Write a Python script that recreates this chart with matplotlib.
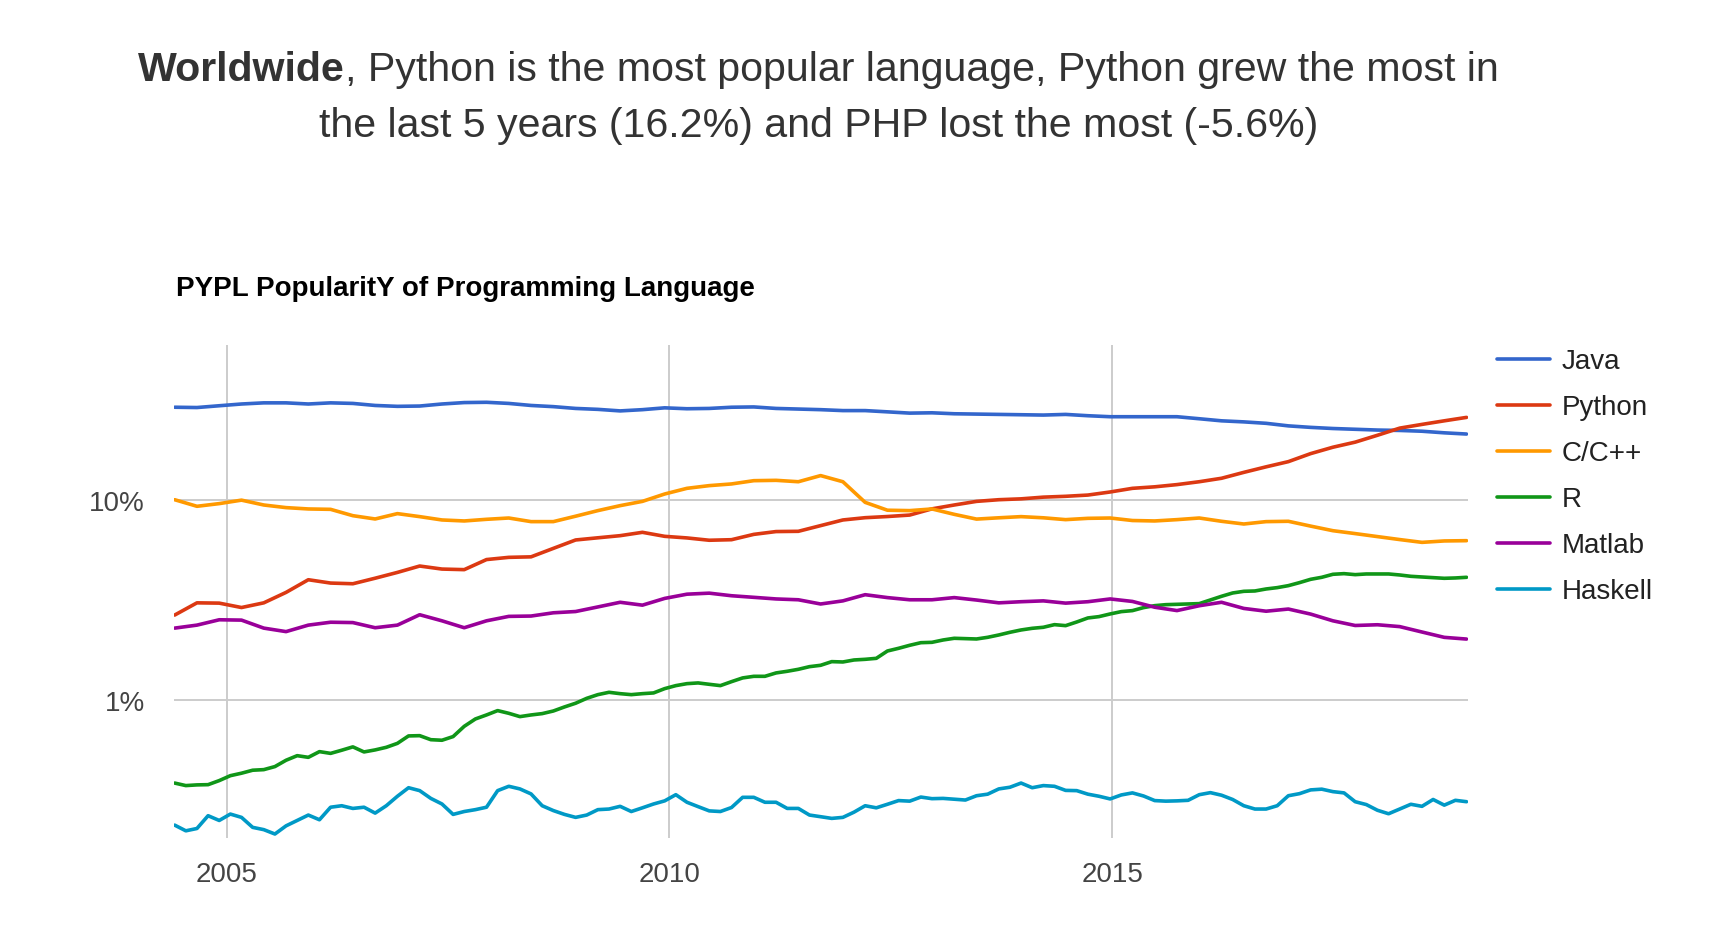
import matplotlib
matplotlib.use("Agg")
import matplotlib.pyplot as plt
import matplotlib.ticker as mticker
import pandas as pd

# PYPL share of searches (%) at evenly spaced points
# from Jun 2004 to Jan 2019 (quarterly for the smooth series, about every
# 1.5 months for the jumpy R and Haskell lines)
java = [29.0, 28.9, 29.5, 30.1, 30.5, 30.5, 30.1, 30.5, 30.3, 29.6, 29.3, 29.4,
        30.1, 30.6, 30.7, 30.3, 29.6, 29.2, 28.6, 28.3, 27.8, 28.2, 28.8,
        28.5, 28.6, 29.0, 29.1, 28.6, 28.4, 28.2, 27.9, 27.9, 27.5, 27.1,
        27.2, 26.9, 26.8, 26.7, 26.6, 26.5, 26.7, 26.3, 26.0, 26.0, 26.0, 26.0,
        25.4, 24.8, 24.5, 24.1, 23.4, 23.0, 22.7, 22.5, 22.3, 22.2, 22.0, 21.6, 21.3]
python = [2.65, 3.05, 3.04, 2.89, 3.05, 3.44, 3.98, 3.83, 3.80, 4.05, 4.33, 4.66,
          4.50, 4.47, 5.02, 5.15, 5.18, 5.71, 6.29, 6.45, 6.61, 6.87, 6.56,
          6.44, 6.27, 6.31, 6.71, 6.93, 6.95, 7.42, 7.92, 8.13, 8.24, 8.38,
          9.0, 9.41, 9.81, 10.0, 10.1, 10.3, 10.4, 10.55, 10.93, 11.4, 11.6, 11.9,
          12.3, 12.8, 13.7, 14.6, 15.5, 17.0, 18.3, 19.4, 21.0, 22.8, 23.8, 24.8, 25.8]
cpp = [10.0, 9.27, 9.56, 9.95, 9.41, 9.13, 8.99, 8.95, 8.32, 8.01, 8.52, 8.23,
       7.92, 7.83, 7.98, 8.10, 7.77, 7.77, 8.27, 8.82, 9.34, 9.81, 10.68,
       11.4, 11.76, 11.99, 12.45, 12.5, 12.3, 13.2, 12.3, 9.70, 8.86, 8.82,
       8.99, 8.45, 8.0, 8.12, 8.23, 8.12, 7.95, 8.07, 8.10, 7.87, 7.83, 7.95,
       8.10, 7.80, 7.56, 7.77, 7.80, 7.38, 7.0, 6.77, 6.54, 6.32, 6.12, 6.22, 6.24]
matlab = [2.28, 2.36, 2.51, 2.50, 2.28, 2.19, 2.36, 2.44, 2.43, 2.29, 2.36, 2.66,
          2.48, 2.29, 2.48, 2.61, 2.62, 2.72, 2.76, 2.91, 3.07, 2.97, 3.21,
          3.37, 3.41, 3.31, 3.25, 3.19, 3.16, 3.01, 3.12, 3.35, 3.24, 3.16,
          3.16, 3.24, 3.15, 3.05, 3.09, 3.12, 3.04, 3.09, 3.19, 3.10, 2.90, 2.79,
          2.95, 3.07, 2.86, 2.77, 2.84, 2.68, 2.48, 2.35, 2.37, 2.32, 2.18, 2.05, 2.01]
r_lang = [0.383, 0.372, 0.375, 0.376, 0.394, 0.417, 0.429, 0.444, 0.447, 0.463,
          0.498, 0.525, 0.515, 0.550, 0.539, 0.559, 0.581, 0.548, 0.561, 0.578,
          0.605, 0.659, 0.661, 0.631, 0.627, 0.654, 0.736, 0.801, 0.839, 0.882,
          0.855, 0.823, 0.839, 0.852, 0.878, 0.920, 0.960, 1.016, 1.060, 1.089,
          1.072, 1.060, 1.072, 1.081, 1.136, 1.176, 1.203, 1.213, 1.194, 1.176,
          1.231, 1.285, 1.309, 1.309, 1.361, 1.387, 1.419, 1.463, 1.486, 1.550,
          1.544, 1.580, 1.592, 1.610, 1.752, 1.807, 1.871, 1.928, 1.936, 1.989,
          2.028, 2.020, 2.012, 2.051, 2.107, 2.173, 2.232, 2.275, 2.302, 2.373,
          2.346, 2.447, 2.563, 2.603, 2.684, 2.757, 2.789, 2.887, 2.953, 2.987,
          2.999, 3.011, 3.023, 3.153, 3.289, 3.417, 3.483, 3.497, 3.578, 3.634,
          3.718, 3.849, 3.999, 4.093, 4.237, 4.269, 4.220, 4.253, 4.253, 4.253,
          4.204, 4.140, 4.108, 4.077, 4.046, 4.062, 4.093]
haskell = [0.236, 0.221, 0.227, 0.263, 0.249, 0.268, 0.258, 0.230, 0.224, 0.213,
           0.234, 0.249, 0.265, 0.251, 0.290, 0.295, 0.286, 0.290, 0.271, 0.295,
           0.329, 0.363, 0.351, 0.321, 0.301, 0.267, 0.276, 0.282, 0.290, 0.351,
           0.369, 0.358, 0.338, 0.295, 0.279, 0.267, 0.258, 0.265, 0.282, 0.284,
           0.293, 0.276, 0.288, 0.301, 0.312, 0.335, 0.307, 0.292, 0.278, 0.276,
           0.289, 0.325, 0.325, 0.307, 0.307, 0.286, 0.286, 0.265, 0.260, 0.255,
           0.258, 0.274, 0.295, 0.288, 0.300, 0.313, 0.311, 0.326, 0.320, 0.321,
           0.318, 0.315, 0.331, 0.337, 0.358, 0.365, 0.383, 0.363, 0.372, 0.369,
           0.352, 0.351, 0.337, 0.329, 0.319, 0.334, 0.342, 0.330, 0.313, 0.311,
           0.312, 0.314, 0.335, 0.343, 0.333, 0.317, 0.295, 0.284, 0.284, 0.295,
           0.331, 0.339, 0.354, 0.357, 0.347, 0.342, 0.309, 0.299, 0.280, 0.269,
           0.284, 0.300, 0.293, 0.317, 0.297, 0.314, 0.309]

labels = ["Java", "Python", "C/C++", "R", "Matlab", "Haskell"]
series = [java, python, cpp, r_lang, matlab, haskell]
colors = ["#3366cc", "#dc3912", "#ff9900", "#109618", "#990099", "#0099c6"]
year_ticks = ["2005", "2010", "2015"]
pct_ticks = [1, 10]
first_month, last_month = "2004-06-01", "2019-01-01"

FONT = "Liberation Sans"
plt.rcParams["font.family"] = [FONT, "DejaVu Sans"]

fig = plt.figure(figsize=(17.24, 9.28), dpi=100)
ax = fig.add_axes([0.1009, 0.0956, 0.7506, 0.5316])

for name, vals, col in zip(labels, series, colors):
    dates = pd.date_range(first_month, last_month, periods=len(vals))
    ax.plot(dates, vals, color=col, lw=2.6, label=name, solid_capstyle="round",
            solid_joinstyle="round")

ax.set_yscale("log")
ax.set_ylim(0.2028, 59.4)
ax.set_xlim(pd.Timestamp(first_month) - pd.Timedelta(days=3),
            pd.Timestamp(last_month) + pd.Timedelta(days=6))
ax.yaxis.set_major_locator(mticker.FixedLocator(pct_ticks))
ax.yaxis.set_minor_locator(mticker.NullLocator())
ax.set_yticklabels([f"{p}%" for p in pct_ticks])
ax.set_xticks([pd.Timestamp(f"{y}-01-01") for y in year_ticks])
ax.set_xticklabels(year_ticks)
ax.grid(True, which="major", color="#cccccc", lw=1.4)
ax.set_axisbelow(True)
for s in ax.spines.values():
    s.set_visible(False)
ax.tick_params(axis="both", length=0, labelsize=20, colors="#444444")
ax.tick_params(axis="x", pad=16.5)
ax.tick_params(axis="y", pad=21)

leg = fig.legend(loc="upper left", bbox_to_anchor=(1497.5 / 1724, 1 - 349.5 / 928),
                 frameon=False, fontsize=20, handlelength=1.89, handletextpad=0.43,
                 labelspacing=0.72, borderpad=0, borderaxespad=0)
for t in leg.get_texts():
    t.set_color("#222222")

fig.text(175.7 / 1724, 1 - 296 / 928, "PYPL PopularitY of Programming Language",
         fontsize=20, weight="bold", color="black", ha="left", va="baseline")

# headline: bold lead word followed by regular text, centred as one line
renderer = fig.canvas.get_renderer()
y1 = 1 - 81 / 928
y2 = 1 - 137 / 928
cx = 818.5 / 1724
t_bold = fig.text(0, y1, "Worldwide", fontsize=29.6, weight="bold", color="#333333",
                  ha="left", va="baseline")
t_rest = fig.text(0, y1, ", Python is the most popular language, Python grew the most in",
                  fontsize=29.6, color="#333333", ha="left", va="baseline")
wb = t_bold.get_window_extent(renderer).width
wr = t_rest.get_window_extent(renderer).width
x0 = cx * 1724 - (wb + wr) / 2
t_bold.set_x(x0 / 1724)
t_rest.set_x((x0 + wb) / 1724)
fig.text(cx, y2, "the last 5 years (16.2%) and PHP lost the most (-5.6%)",
         fontsize=29.6, color="#333333", ha="center", va="baseline")

fig.savefig("out.png", dpi=100, facecolor="white")
